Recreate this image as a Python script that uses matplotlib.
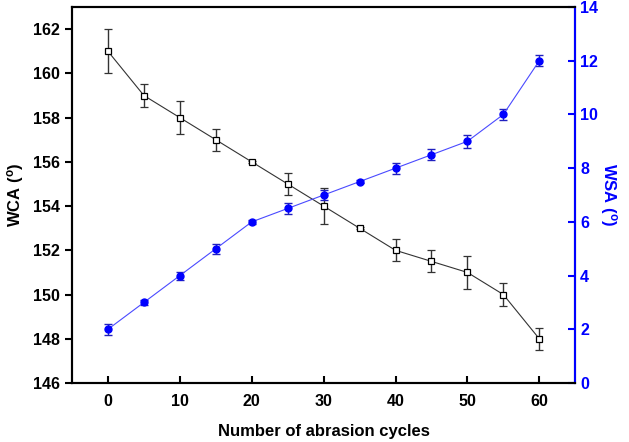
import numpy as np
import matplotlib
matplotlib.use("Agg")
import matplotlib.pyplot as plt

plt.rcParams['font.family'] = ['Liberation Sans', 'DejaVu Sans']
plt.rcParams['font.weight'] = 'bold'

# data
cycles = [0, 5, 10, 15, 20, 25, 30, 35, 40, 45, 50, 55, 60]
wca = [161, 159, 158, 157, 156, 155, 154, 153, 152, 151.5, 151, 150, 148]
wca_err = [1.0, 0.5, 0.75, 0.5, 0.05, 0.5, 0.8, 0.05, 0.5, 0.5, 0.73, 0.5, 0.5]
wsa = [2, 3, 4, 5, 6, 6.5, 7, 7.5, 8, 8.5, 9, 10, 12]
wsa_err = [0.2, 0.08, 0.15, 0.18, 0.08, 0.2, 0.2, 0.06, 0.2, 0.2, 0.25, 0.2, 0.2]

fig = plt.figure(figsize=(6.29, 4.42), dpi=100)
ax = fig.add_axes([0.1145, 0.1335, 0.8, 0.8505])
ax2 = ax.twinx()

ax.errorbar(cycles, wca, yerr=wca_err, color='#333333', lw=0.8, marker='s',
            ms=5, mfc='white', mec='black', mew=0.9, capsize=3, elinewidth=1.0,
            ecolor='#333333', zorder=3)
ax2.errorbar(cycles, wsa, yerr=wsa_err, color='#4a4aff', lw=0.8, marker='o',
             ms=5, mfc='blue', mec='blue', capsize=3, elinewidth=1.0,
             ecolor='#2020c0', zorder=3)

ax.set_xlim(-5, 65)
ax.set_ylim(146, 163)
ax.set_yticks(np.arange(146, 163, 2))
ax.set_xticks(np.arange(0, 61, 10))
ax2.set_ylim(0, 14)
ax2.set_yticks(np.arange(0, 15, 2))

for sp in ax.spines.values():
    sp.set_linewidth(1.5)
for sp in ax2.spines.values():
    sp.set_linewidth(1.5)
ax2.spines['right'].set_color('blue')

ax.tick_params(axis='y', direction='out', length=5, width=1.5, labelsize=11.5)
ax.tick_params(axis='x', direction='in', length=5, width=1.5, labelsize=11.5, pad=8)
ax2.tick_params(axis='y', direction='in', length=5, width=1.5, labelsize=11.5,
                colors='blue')

ax.set_xlabel('Number of abrasion cycles', fontsize=12, fontweight='bold', labelpad=11)
ax.set_ylabel('WCA ($\\mathregular{^o}$)', fontsize=12, fontweight='bold', labelpad=5)
ax2.set_ylabel('WSA ($\\mathregular{^o}$)', fontsize=12, fontweight='bold',
               color='blue', rotation=270, labelpad=15)

fig.savefig('out.png', dpi=100)
